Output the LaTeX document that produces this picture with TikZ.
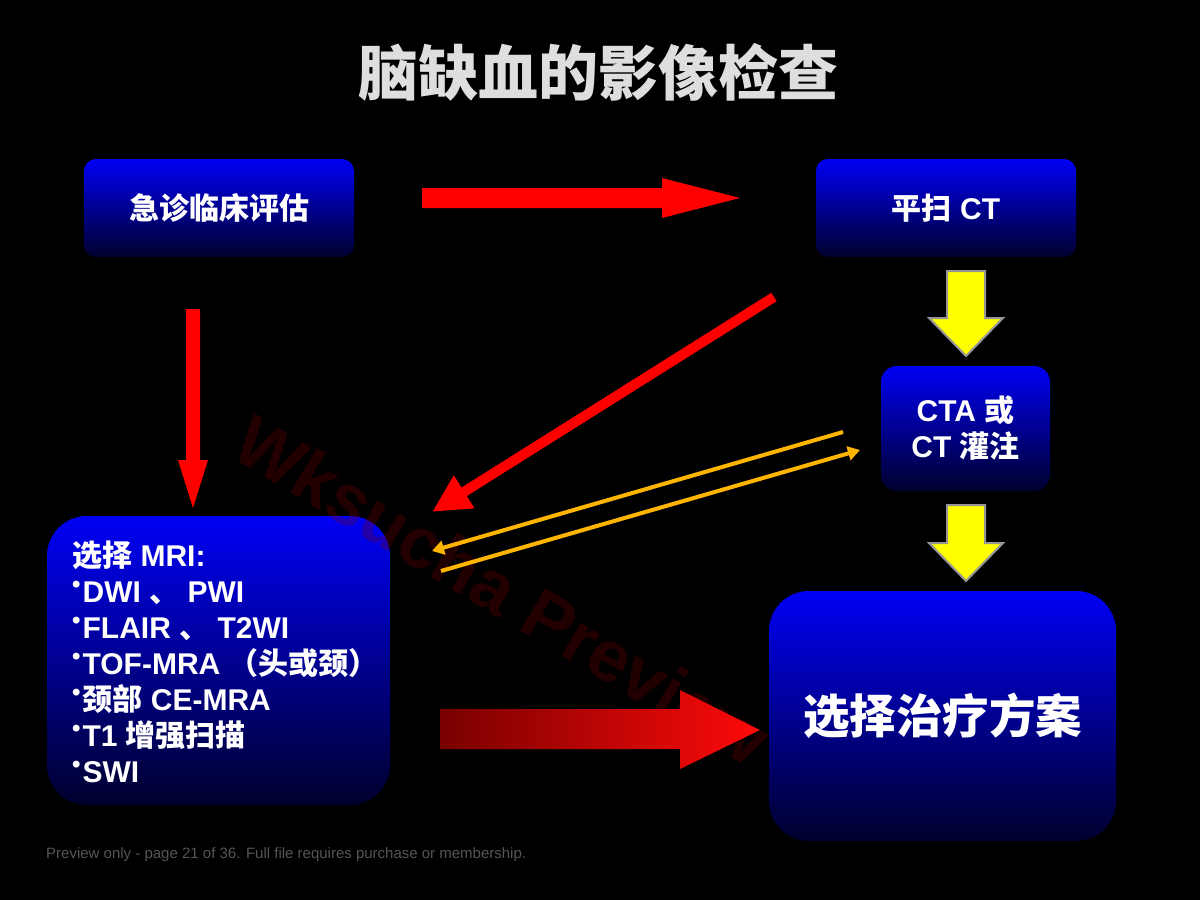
\documentclass[tikz,border=0pt]{standalone}
\usepackage{fontspec}
\setmainfont{Liberation Sans}
\newfontfamily\cjk{Noto Sans CJK SC}
\usetikzlibrary{arrows.meta}
\definecolor{boxtop}{RGB}{0,0,245}
\definecolor{boxbot}{RGB}{0,0,45}
\definecolor{titlegray}{RGB}{222,222,222}
\definecolor{orangeline}{RGB}{255,180,0}
\definecolor{yel}{RGB}{255,255,0}
\definecolor{yelline}{RGB}{150,150,150}
\definecolor{darkred}{RGB}{120,0,0}
\definecolor{brightred}{RGB}{255,10,10}
\definecolor{wmred}{RGB}{130,0,0}
\definecolor{footgray}{RGB}{85,85,85}
\newcommand\mybul{\raisebox{10pt}{\fontsize{24}{24}\selectfont •}\hspace{2pt}}
\begin{document}
\begin{tikzpicture}[x=1pt,y=-1pt,
  box/.style={rounded corners=12pt, top color=boxtop, bottom color=boxbot, draw=none,
    text=white, font=\bfseries\fontsize{30}{36}\selectfont, inner sep=0pt, align=center},
  redblock/.style={fill=red, draw=none},
  yelblock/.style={fill=yel, draw=yelline, line width=2pt, line join=miter},
  orangearrow/.style={orangeline, line width=4pt, -{Triangle[length=12pt,width=14pt]}},
  redline/.style={red, line width=10pt, -{Triangle[length=38pt,width=36pt]}}]
\fill[black] (0,0) rectangle (1200,900);
\useasboundingbox (0,0) rectangle (1200,900);

% title
\node[font={\cjk\bfseries\fontsize{60}{72}\selectfont}, text=titlegray] (title) at (598,72) {脑缺血的影像检查};

% boxes
\node[box, minimum width=270pt, minimum height=98pt] (eval) at (219,208) {{\cjk 急诊临床评估}};
\node[box, minimum width=260pt, minimum height=98pt] (ct) at (946,208) {{\cjk 平扫} CT};
\node[box, minimum width=169pt, minimum height=125pt, rounded corners=16pt] (cta) at (965.5,428.5) {CTA {\cjk 或}\\CT {\cjk 灌注}};
\node[box, minimum width=343pt, minimum height=289pt, rounded corners=40pt] (mri) at (218.5,660.5) {};
\node[anchor=west, text=white, font=\bfseries\fontsize{30}{36}\selectfont, inner sep=0pt, align=left] (mritext) at (72,662)
 {{\cjk 选择} MRI:\\
  \mybul DWI {\cjk 、} PWI\\
  \mybul FLAIR {\cjk 、} T2WI\\
  \mybul TOF-MRA {\cjk （头或颈）}\\
  \mybul{\cjk 颈部} CE-MRA\\
  \mybul T1 {\cjk 增强扫描}\\
  \mybul SWI};
\node[box, minimum width=347pt, minimum height=250pt, rounded corners=40pt, font={\cjk\bfseries\fontsize{46.5}{48}\selectfont}] (treat) at (942.5,716) {选择治疗方案};

% watermark
\node[rotate=-31, text=wmred, text opacity=0.27, font=\bfseries\fontsize{72}{72}\selectfont] (wm) at (502,590) {Wksucha Preview};

% red block arrows
\fill[redblock] (422,188) -- (662,188) -- (662,178) -- (740,198) -- (662,218) -- (662,208) -- (422,208) -- cycle;
\fill[redblock] (186,309) -- (200,309) -- (200,460) -- (208,460) -- (193,508) -- (178,460) -- (186,460) -- cycle;

% diagonal red arrow
\coordinate (d1s) at (774,297);
\coordinate (d1e) at (432,512);
\draw[redline] (d1s) -- (d1e);

% orange arrows
\coordinate (o1s) at (843,432);
\coordinate (o1e) at (432,551);
\coordinate (o2s) at (441,571);
\coordinate (o2e) at (860,450);
\draw[orangearrow] (o1s) -- (o1e);
\draw[orangearrow] (o2s) -- (o2e);

% yellow arrows
\filldraw[yelblock] (947,271) -- (985,271) -- (985,318) -- (1003,318) -- (966,356) -- (929,318) -- (947,318) -- cycle;
\filldraw[yelblock] (947,505) -- (985,505) -- (985,543) -- (1003,543) -- (966,581) -- (929,543) -- (947,543) -- cycle;

% big gradient arrow
\shade[left color=darkred, right color=brightred] (440,709) -- (680,709) -- (680,690) -- (760,730) -- (680,769) -- (680,749) -- (440,749) -- cycle;

% footer
\node[anchor=west, text=footgray, font=\fontsize{15}{15}\selectfont, inner sep=0pt] (foot) at (46,855) {Preview only - page 21 of 36. Full file requires purchase or membership.};
\end{tikzpicture}
\end{document}
